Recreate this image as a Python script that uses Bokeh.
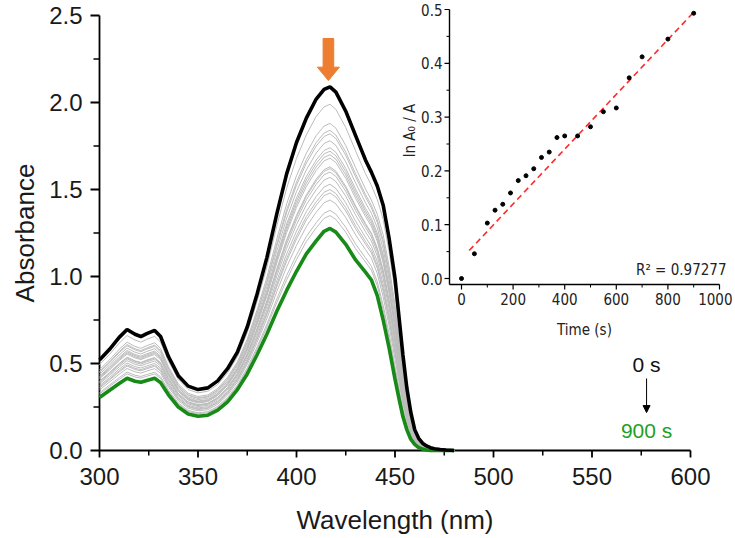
import math
from bokeh.plotting import figure
from bokeh.models import Range1d, Label, Arrow, NormalHead
from bokeh.embed import file_html
from bokeh.resources import INLINE
from bokeh.core.properties import value

# ---------------- data ----------------
wavelength = [300, 305, 310, 314, 318, 321, 324, 328, 331, 335, 340, 345, 350, 355,
              360, 365, 370, 375, 380, 385, 390, 395, 400, 405, 410, 414, 417, 420,
              425, 430, 435, 438, 441, 444, 447, 450, 452, 454, 456, 458, 460, 462,
              464, 466, 468, 470, 473, 476, 480]
abs_0s = [0.52, 0.58, 0.65, 0.695, 0.668, 0.655, 0.672, 0.69, 0.655, 0.54, 0.43, 0.37,
          0.35, 0.36, 0.40, 0.47, 0.565, 0.71, 0.90, 1.11, 1.36, 1.59, 1.77, 1.91,
          2.02, 2.075, 2.09, 2.06, 1.95, 1.81, 1.67, 1.60, 1.52, 1.41, 1.22, 0.99,
          0.77, 0.55, 0.36, 0.22, 0.12, 0.07, 0.042, 0.026, 0.016, 0.01, 0.006,
          0.003, 0.0]
abs_900s = [0.305, 0.345, 0.385, 0.415, 0.398, 0.392, 0.402, 0.415, 0.39, 0.32, 0.25,
            0.21, 0.197, 0.203, 0.232, 0.28, 0.35, 0.44, 0.55, 0.67, 0.80, 0.92, 1.03,
            1.13, 1.205, 1.26, 1.276, 1.255, 1.185, 1.095, 1.025, 0.98, 0.89, 0.75,
            0.59, 0.41, 0.30, 0.195, 0.12, 0.065, 0.035, 0.017, 0.008, 0.003, 0.0,
            0.0, 0.0, 0.0, 0.0]
# peak absorbance of the intermediate (grey) spectra, read at ~417 nm
gray_peaks = [1.99, 1.88, 1.84, 1.82, 1.78, 1.74, 1.72, 1.70, 1.68, 1.63, 1.62,
              1.60, 1.57, 1.53, 1.50, 1.48, 1.44, 1.38, 1.35]

time_s = [0, 50, 100, 130, 160, 190, 220, 250, 280, 310, 340, 370, 400, 450, 500,
          550, 600, 650, 700, 800, 900]
ln_ratio = [0.0, 0.046, 0.103, 0.127, 0.138, 0.159, 0.182, 0.191, 0.204, 0.225, 0.235,
            0.262, 0.265, 0.265, 0.282, 0.310, 0.317, 0.373, 0.412, 0.445, 0.493]
fit_time = [30, 900]
fit_ln = [0.052, 0.495]
r_squared_text = "R\u00b2 = 0.97277"

x_ticks = [300, 350, 400, 450, 500, 550, 600]
x_minor = [325, 375, 425, 475, 525, 575]
y_ticks = [0.0, 0.5, 1.0, 1.5, 2.0, 2.5]
y_minor = [0.25, 0.75, 1.25, 1.75, 2.25]
inset_x_ticks = [0, 200, 400, 600, 800, 1000]
inset_x_minor = [100, 300, 500, 700, 900]
inset_y_ticks = [0.0, 0.1, 0.2, 0.3, 0.4, 0.5]
inset_y_minor = [0.05, 0.15, 0.25, 0.35, 0.45]

# ---------------- geometry (canvas pixels) ----------------
W, H = 734, 537                         # the frame covers the whole canvas
X0, Y0 = 99, 450                        # pixel position of (300 nm, 0.0)
PX_NM = 1.97                            # px per nm
PX_A = 174.0                            # px per absorbance unit
T0, PX_T = 461, 0.258                   # inset: x of t=0, px per second
V0, PX_V = 278, 538.0                   # inset: y of 0, px per unit
INS_AX_X, INS_AX_Y = 449, 284           # inset axis lines

FONT = "Liberation Sans"
NFONT = "Liberation Sans Narrow, DejaVu Sans Condensed, Liberation Sans"
TXT = "#1a1a1a"

p = figure(width=W, height=H, output_backend="svg", toolbar_location=None,
           x_range=Range1d(300 - X0 / PX_NM, 300 + (W - X0) / PX_NM),
           y_range=Range1d(-(H - Y0) / PX_A, Y0 / PX_A),
           x_axis_type=None, y_axis_type=None,
           min_border_left=0, min_border_right=0, min_border_top=0,
           min_border_bottom=0)
p.outline_line_color = None
p.grid.visible = False
p.background_fill_color = "white"
p.border_fill_color = "white"

p.extra_x_ranges = {"tx": Range1d(-T0 / PX_T, (W - T0) / PX_T)}
p.extra_y_ranges = {"ty": Range1d((V0 - H) / PX_V, V0 / PX_V)}

dx = 1 / PX_NM   # one pixel in nm
dy = 1 / PX_A    # one pixel in absorbance

# ---------------- main axes (drawn with the data scales) ----------------
x_lo, x_hi = x_ticks[0], x_ticks[-1]
y_lo, y_hi = y_ticks[0], y_ticks[-1]
p.segment([x_lo, x_lo], [y_lo, y_lo], [x_hi, x_lo], [y_lo, y_hi],
          line_color="black", line_width=1.8)
p.segment(x_ticks, [y_lo] * len(x_ticks), x_ticks, [y_lo - 7 * dy] * len(x_ticks),
          line_color="black", line_width=1.8)
p.segment(x_minor, [y_lo] * len(x_minor), x_minor, [y_lo - 5 * dy] * len(x_minor),
          line_color="black", line_width=1.5)
p.segment([x_lo] * len(y_ticks), y_ticks, [x_lo - 9 * dx] * len(y_ticks), y_ticks,
          line_color="black", line_width=1.8)
p.segment([x_lo] * len(y_minor), y_minor, [x_lo - 6 * dx] * len(y_minor), y_minor,
          line_color="black", line_width=1.5)

p.text(x_ticks, [y_lo - 26 * dy] * len(x_ticks), text=[str(v) for v in x_ticks],
       text_align="center", text_baseline="middle", text_font=value(FONT),
       text_font_size="24px", text_color=TXT)
p.text([x_lo - 17 * dx] * len(y_ticks), y_ticks, text=[f"{v:.1f}" for v in y_ticks],
       text_align="right", text_baseline="middle", text_font=value(FONT),
       text_font_size="24px", text_color=TXT)
p.text([(x_lo + x_hi) / 2], [y_lo - 69 * dy], text=["Wavelength (nm)"],
       text_align="center", text_baseline="middle", text_font=value(FONT),
       text_font_size="26px", text_color=TXT)
p.text([x_lo - 75 * dx], [(y_lo + y_hi) / 2], text=["Absorbance"], angle=math.pi / 2,
       text_align="center", text_baseline="middle", text_font=value(FONT),
       text_font_size="26px", text_color=TXT)

# ---------------- spectra ----------------
pk0 = max(abs_0s)
pk1 = max(abs_900s)
for gp in gray_peaks:
    f = (pk0 - gp) / (pk0 - pk1)
    ys = [a + (b - a) * f for a, b in zip(abs_0s, abs_900s)]
    p.line(wavelength, ys, line_color="#bcbcbc", line_width=1)
p.line(wavelength, abs_900s, line_color="#178a17", line_width=3.6)
p.line(wavelength, abs_0s, line_color="black", line_width=3.6)

# orange arrow above the band maximum
AX, SW, HW = 416.2, 2.7, 5.6
Y_TOP, Y_BASE, Y_TIP = 2.368, 2.203, 2.126
p.patch([AX - SW, AX + SW, AX + SW, AX + HW, AX, AX - HW, AX - SW],
        [Y_TOP, Y_TOP, Y_BASE, Y_BASE, Y_TIP, Y_BASE, Y_BASE],
        fill_color="#ED7D31", line_color="#ED7D31")

# 0 s -> 900 s annotation
TX = 577.7
p.add_layout(Label(x=TX, y=0.494, text="0 s", text_align="center",
                   text_baseline="middle", text_font=FONT,
                   text_font_size="21px", text_color="#111111"))
p.add_layout(Label(x=TX, y=0.115, text="900 s", text_align="center",
                   text_baseline="middle", text_font=FONT,
                   text_font_size="21px", text_color="#22a022"))
p.add_layout(Arrow(x_start=TX, y_start=0.414, x_end=TX, y_end=0.218,
                   line_width=1, line_color="black",
                   end=NormalHead(size=7, fill_color="black", line_color="black")))

# ---------------- inset ----------------
ins = dict(x_range_name="tx", y_range_name="ty")
ax_t = (INS_AX_X - T0) / PX_T
ax_v = (V0 - INS_AX_Y) / PX_V
tmaj_t = 5 / PX_T
tmin_t = 3 / PX_T
tmaj_v = 5 / PX_V
tmin_v = 3 / PX_V

p.segment([ax_t, ax_t], [ax_v, ax_v], [ax_t, inset_x_ticks[-1]],
          [inset_y_ticks[-1], ax_v], line_color="black", line_width=1.4, **ins)
p.segment([ax_t] * len(inset_y_ticks), inset_y_ticks,
          [ax_t - tmaj_t] * len(inset_y_ticks), inset_y_ticks,
          line_color="black", line_width=1.2, **ins)
p.segment([ax_t] * len(inset_y_minor), inset_y_minor,
          [ax_t - tmin_t] * len(inset_y_minor), inset_y_minor,
          line_color="black", line_width=1.0, **ins)
p.segment(inset_x_ticks, [ax_v] * len(inset_x_ticks),
          inset_x_ticks, [ax_v - tmaj_v] * len(inset_x_ticks),
          line_color="black", line_width=1.2, **ins)
p.segment(inset_x_minor, [ax_v] * len(inset_x_minor),
          inset_x_minor, [ax_v - tmin_v] * len(inset_x_minor),
          line_color="black", line_width=1.0, **ins)

ins_font = dict(text_font=value(NFONT), text_font_size="15px", text_color="#222222")
p.text([ax_t - 7 / PX_T] * len(inset_y_ticks), inset_y_ticks,
       text=[f"{v:.1f}" for v in inset_y_ticks], text_align="right",
       text_baseline="middle", **ins_font, **ins)
p.text(inset_x_ticks[:-1], [ax_v - 8 / PX_V] * (len(inset_x_ticks) - 1),
       text=[str(v) for v in inset_x_ticks[:-1]], text_align="center",
       text_baseline="top", **ins_font, **ins)
# last label kept just inside the canvas edge
p.text([inset_x_ticks[-1] + 13 / PX_T], [ax_v - 8 / PX_V],
       text=[str(inset_x_ticks[-1])], text_align="right",
       text_baseline="top", **ins_font, **ins)

p.line(fit_time, fit_ln, line_color="#ff2a2a", line_width=1.6,
       line_dash="6 4", **ins)
p.scatter(time_s, ln_ratio, size=4, marker="circle", fill_color="black",
          line_color="black", **ins)

lab_font = dict(text_font=NFONT, text_font_size="15px", text_color="#222222")
p.add_layout(Label(x=(409 - T0) / PX_T, y=(V0 - 130) / PX_V, text="ln A\u2080 / A",
                   angle=math.pi / 2, text_align="center", text_baseline="middle",
                   **lab_font, **ins))
p.add_layout(Label(x=(584 - T0) / PX_T, y=(V0 - 329) / PX_V, text="Time (s)",
                   text_align="center", text_baseline="middle", **lab_font, **ins))
p.add_layout(Label(x=(726 - T0) / PX_T, y=(V0 - 269) / PX_V, text=r_squared_text,
                   text_align="right", text_baseline="middle", **lab_font, **ins))

open("out.html", "w").write(file_html(p, INLINE))
